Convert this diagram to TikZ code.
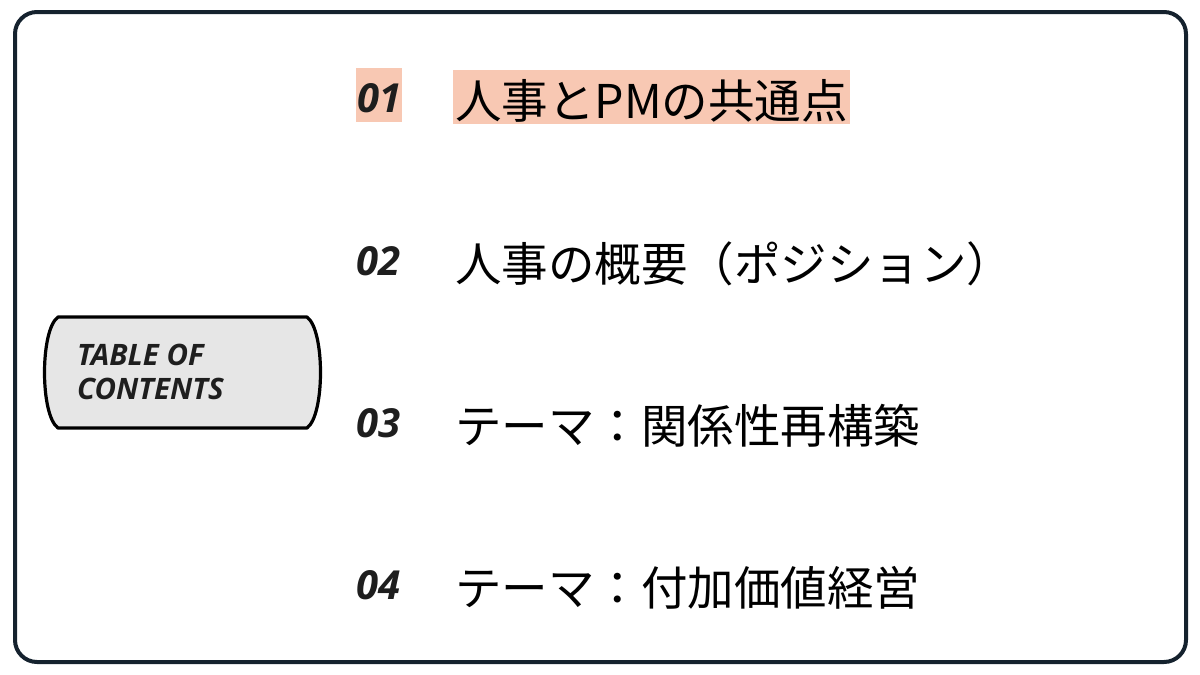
\documentclass[tikz,border=0pt]{standalone}
\usepackage{fontspec}
\newfontfamily\jpfont{Noto Sans CJK JP}
\newfontfamily\numfont{Open Sans}
\definecolor{frame}{HTML}{15222E}
\definecolor{salmon}{HTML}{F8C8B3}
\definecolor{boxgray}{HTML}{E6E6E6}
\definecolor{ink}{HTML}{1E1E1E}
\begin{document}
\begin{tikzpicture}[x=1pt,y=-1pt,
	num/.style={anchor=base west,inner sep=0pt,text=ink,font=\numfont\bfseries\itshape\fontsize{40}{44}\selectfont},
	title/.style={anchor=base west,inner xsep=2pt,inner ysep=0pt,font=\jpfont\fontsize{46.5}{50}\selectfont},
	hl/.style={fill=salmon}]
	\useasboundingbox (0,0) rectangle (1200,675);
	\draw[frame,line width=4pt,rounded corners=22pt] (15,12) rectangle (1186,662);

	% table of contents label
	\draw[line width=3.2pt,fill=boxgray,line join=round] (58,317) -- (307,317)
		.. controls (325,330) and (325,415) .. (307,428) -- (58,428)
		.. controls (40,415) and (40,330) .. (58,317) -- cycle;
	\node (toc) at (77,399)[anchor=base west,inner sep=0pt,align=left,text=ink,font=\numfont\bfseries\itshape\fontsize{29.5}{34}\selectfont] {TABLE OF\\CONTENTS};

	% items
	\node (n1) at (356,112)[num,hl,inner xsep=1pt,text height=44pt,text depth=10pt] {01};
	\node (t1) at (453,118)[title,hl,text height=48pt,text depth=6pt] {人事とPMの共通点};
	\node (n2) at (356,275)[num] {02};
	\node (t2) at (453,281)[title] {人事の概要（ポジション）};
	\node (n3) at (356,437)[num] {03};
	\node (t3) at (453,443)[title] {テーマ：関係性再構築};
	\node (n4) at (356,599)[num] {04};
	\node (t4) at (453,605)[title] {テーマ：付加価値経営};
\end{tikzpicture}
\end{document}
